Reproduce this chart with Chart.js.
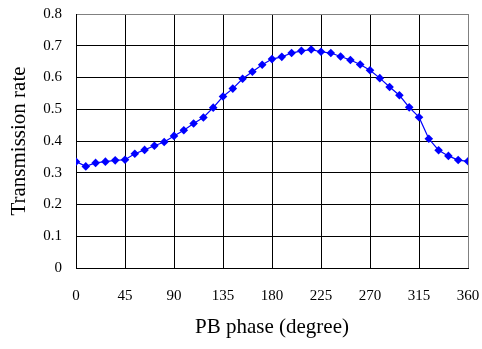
<!DOCTYPE html>
<html>
<head>
<meta charset="utf-8">
<script src="https://cdn.jsdelivr.net/npm/chart.js@4/dist/chart.umd.min.js"></script>
<style>
  html, body { margin: 0; padding: 0; background: #fff; }
  #wrap { width: 482px; height: 349px; position: relative; }
</style>
</head>
<body>
<div id="wrap"><canvas id="chart"></canvas></div>
<script>
const phases = [0, 9, 18, 27, 36, 45, 54, 63, 72, 81, 90, 99, 108, 117, 126, 135, 144, 153, 162, 171,
  180, 189, 198, 207, 216, 225, 234, 243, 252, 261, 270, 279, 288, 297, 306, 315, 324, 333, 342, 351, 360];
const transmission = [0.335, 0.320, 0.331, 0.335, 0.339, 0.341, 0.360, 0.372, 0.385, 0.397,
  0.416, 0.434, 0.455, 0.474, 0.505, 0.540, 0.565, 0.596, 0.618, 0.640,
  0.658, 0.665, 0.677, 0.684, 0.688, 0.681, 0.677, 0.666, 0.655, 0.641,
  0.623, 0.598, 0.570, 0.544, 0.506, 0.475, 0.407, 0.371, 0.353, 0.340, 0.336];
const xTicks = [0, 45, 90, 135, 180, 225, 270, 315, 360];

const serif = "'Liberation Serif', 'Times New Roman', serif";

const ctx = document.getElementById('chart');

new Chart(ctx, {
  type: 'line',
  data: {
    datasets: [
      {
        label: 'Transmission rate',
        data: phases.map((p, i) => ({ x: p, y: transmission[i] })),
        borderColor: '#0000ff',
        backgroundColor: '#0000ff',
        borderWidth: 1.2,
        pointStyle: 'rectRot',
        pointRadius: 4.3,
        pointBorderWidth: 0,
        pointBackgroundColor: '#0000ff',
        tension: 0,
      },
    ],
  },
  options: {
    responsive: true,
    maintainAspectRatio: false,
    animation: false,
    layout: { padding: { top: 14, right: 14, left: 0, bottom: 0 } },
    scales: {
      x: {
        type: 'linear',
        min: 0,
        max: 360,
        afterBuildTicks: (scale) => {
          scale.ticks = xTicks.map(v => ({ value: v }));
        },
        afterFit: (scale) => {
          scale.height = 81;
          scale.paddingLeft = 0;
          scale.paddingRight = 0;
        },
        grid: {
          color: (c) => c.tick && c.tick.value === 360 ? '#808080' : '#000',
          lineWidth: 1,
          drawTicks: false,
        },
        border: { color: '#000', width: 1 },
        ticks: {
          color: '#000',
          font: { family: serif, size: 15 },
          padding: 19,
          maxRotation: 0,
        },
        title: {
          display: true,
          text: 'PB phase (degree)',
          color: '#000',
          font: { family: serif, size: 21 },
          padding: { top: 0, bottom: 9 },
        },
      },
      y: {
        min: 0,
        max: 0.8,
        afterFit: (scale) => {
          scale.width = 76;
          scale.paddingTop = 0;
          scale.paddingBottom = 0;
        },
        grid: {
          color: (c) => c.tick && Math.abs(c.tick.value - 0.8) < 1e-9 ? '#808080' : '#000',
          lineWidth: 1,
          drawTicks: false,
        },
        border: { color: '#000', width: 1 },
        ticks: {
          stepSize: 0.1,
          color: '#000',
          font: { family: serif, size: 15 },
          padding: 14,
          callback: (v) => v === 0 ? '0' : v.toFixed(1),
        },
        title: {
          display: true,
          text: 'Transmission rate',
          color: '#000',
          font: { family: serif, size: 21 },
          padding: { top: 7, bottom: 0 },
        },
      },
    },
    plugins: {
      legend: { display: false },
      tooltip: { enabled: false },
    },
  },
});
</script>
</body>
</html>
